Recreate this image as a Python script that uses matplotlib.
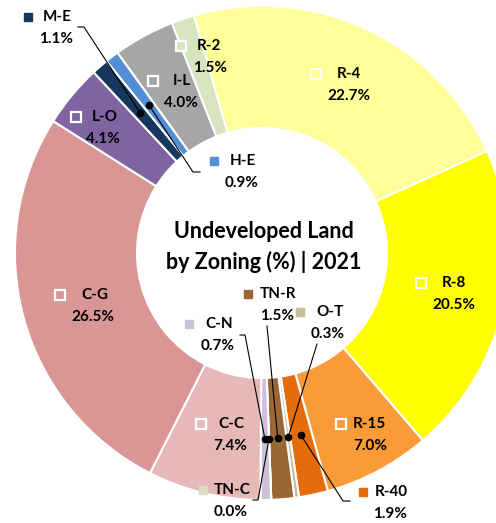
import numpy as np
import matplotlib
matplotlib.use("Agg")
import matplotlib.pyplot as plt

# zoning share of undeveloped land, 2021 (clockwise from top)
zones = ["R-4", "R-8", "R-15", "R-40", "O-T", "TN-R", "TN-C", "C-N",
         "C-C", "C-G", "L-O", "M-E", "H-E", "I-L", "R-2"]
shares = [22.7, 20.5, 7.0, 1.9, 0.3, 1.5, 0.0, 0.7,
          7.4, 26.5, 4.1, 1.1, 0.9, 4.0, 1.5]
colors = ["#FFFF99", "#FFFF00", "#F99B38", "#E46C0A", "#C4BD97", "#9A6634",
          "#DDD9C3", "#CCC0DA", "#E6B9B8", "#D99694", "#8064A2", "#17375E",
          "#558ED5", "#A6A6A6", "#D7E4BD"]
outside = ["O-T", "TN-R", "TN-C", "C-N", "M-E", "H-E", "R-40"]

# label layout in pixels: square x, square y, name left x, percent centre x
layout = {
    "R-4": (316, 74, 337, 349), "R-8": (421, 283, 442, 454),
    "R-15": (341, 424, 353, 370), "R-40": (363, 492, 375, 390),
    "O-T": (300, 312, 316, 328), "TN-R": (248, 294, 260, 277),
    "TN-C": (203, 490, 214, 231), "C-N": (189, 324, 205, 218),
    "C-C": (201, 424, 218, 230), "C-G": (60, 295, 81, 93),
    "L-O": (76, 117, 92, 103), "M-E": (28, 17, 43, 56),
    "H-E": (214, 161, 230, 242), "I-L": (153, 81, 173, 181),
    "R-2": (181, 46, 197, 210),
}
# leader line start points
leaders = {
    "M-E": [(78, 27), (84, 27)], "H-E": [(200, 172), (193, 172)],
    "C-N": [(240, 335), (245, 335)], "TN-R": [(267, 326)],
    "O-T": [(317, 344)], "TN-C": [(253, 500), (258, 500)],
    "R-40": [(350, 501), (343, 501)],
}

W, H = 496, 523
cx, cy, R, ring = 262, 253, 247, 122
font = "Lato"

fig = plt.figure(figsize=(W / 100, H / 100), dpi=100)
ax = fig.add_axes([0, 0, 1, 1])

# y axis points down so pixel positions
ax.pie(shares, colors=colors, startangle=-106, counterclock=True,
       radius=R, center=(cx, cy),
       wedgeprops=dict(width=ring, edgecolor="white", linewidth=1.5))
ax.set_xlim(0, W)
ax.set_ylim(H, 0)
ax.set_aspect("equal", adjustable="box")
ax.axis("off")

fracs = np.array(shares) / sum(shares)
cum = np.concatenate([[0], np.cumsum(fracs)])
mid_r = R - ring / 2

for i, z in enumerate(zones):
    sx, sy, nx, px = layout[z]
    if z in outside:
        ax.plot(sx, sy, marker="s", ms=5.5, color=colors[i], mec=colors[i])
    else:
        ax.plot(sx, sy, marker="s", ms=6.5, mfc=colors[i], mec="white", mew=1.6)
    ax.text(nx, sy, z, ha="left", va="center", fontsize=11,
            fontweight="bold", family=font, color="black")
    ax.text(px, sy + 22, f"{shares[i]:.1f}%", ha="center", va="center",
            fontsize=11, fontweight="bold", family=font, color="black")
    if z in leaders:
        th = np.deg2rad(-106 + 360 * (cum[i] + cum[i + 1]) / 2)
        dx, dy = cx + mid_r * np.cos(th), cy + mid_r * np.sin(th)
        pts = leaders[z] + [(dx, dy)]
        ax.plot([p[0] for p in pts], [p[1] for p in pts], color="black", lw=0.8)
        ax.plot(dx, dy, marker="o", ms=4.5, color="black")

ax.text(264, 232, "Undeveloped Land", ha="center", va="center",
        fontsize=15.5, fontweight="bold", family=font)
ax.text(264, 262, "by Zoning (%) | 2021", ha="center", va="center",
        fontsize=15.5, fontweight="bold", family=font)

fig.savefig("out.png", dpi=100)
